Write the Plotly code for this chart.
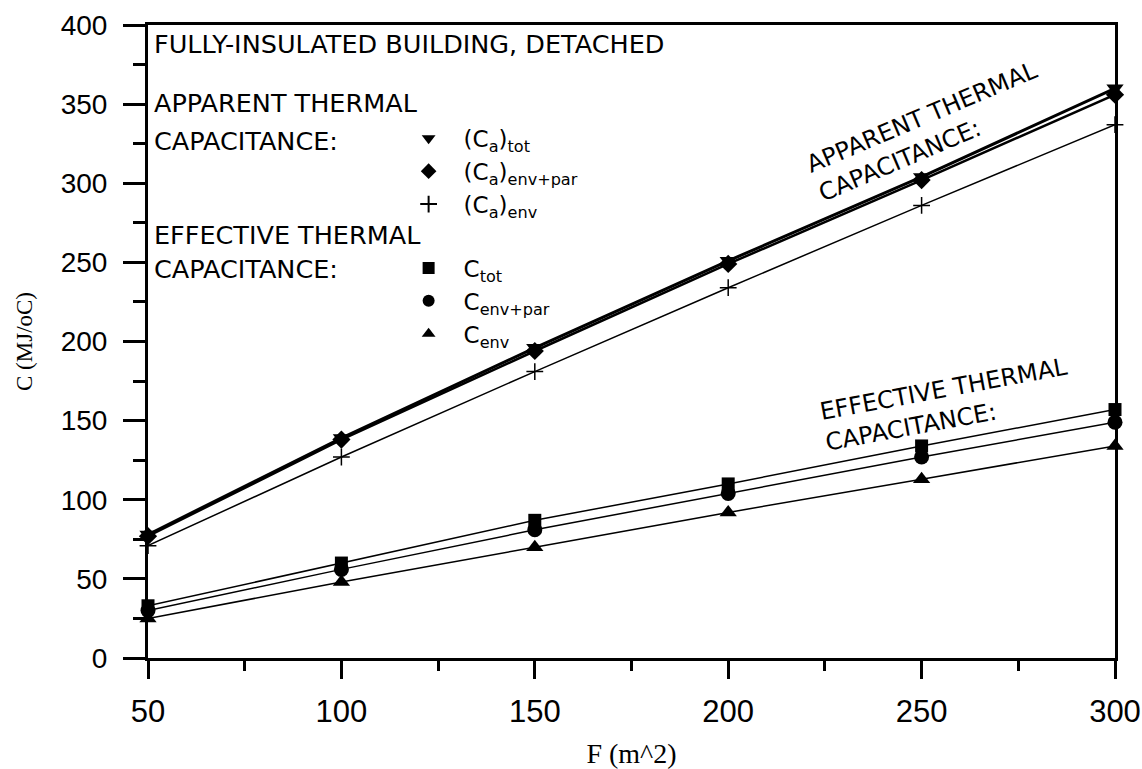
import plotly.graph_objects as go

F = [50, 100, 150, 200, 250, 300]
ca_tot = [78, 139, 196, 251, 304, 360]
ca_envpar = [77, 138, 194, 249, 302, 356]
ca_env = [71, 127, 181, 234, 286, 337]
c_tot = [33, 60, 87, 110, 134, 157]
c_envpar = [30, 56, 81, 104, 127, 149]
c_env = [25, 48, 70, 92, 113, 134]
y_ticks = [0, 50, 100, 150, 200, 250, 300, 350, 400]

series = [
    ("(C<sub>a</sub>)<sub>tot</sub>", ca_tot, "triangle-down", 3, 15, "g1"),
    ("(C<sub>a</sub>)<sub>env+par</sub>", ca_envpar, "diamond", 2.5, 14, "g1"),
    ("(C<sub>a</sub>)<sub>env</sub>", ca_env, "cross-thin", 1.5, 12, "g1"),
    ("C<sub>tot</sub>", c_tot, "square", 1.5, 13, "g2"),
    ("C<sub>env+par</sub>", c_envpar, "circle", 1.5, 15, "g2"),
    ("C<sub>env</sub>", c_env, "triangle-up", 1.5, 15, "g2"),
]

fig = go.Figure()
for name, vals, sym, lw, ms, grp in series:
    fig.add_trace(go.Scatter(
        x=F, y=vals, mode="lines+markers", showlegend=False, cliponaxis=False,
        line=dict(color="black", width=lw),
        marker=dict(symbol=sym, size=ms, color="black",
                    line=dict(color="black", width=1.5 if sym == "cross-thin" else 0)),
    ))
for name, vals, sym, lw, ms, grp in series:
    fig.add_trace(go.Scatter(
        x=[None], y=[None], mode="markers", name=name, legendgroup=grp,
        marker=dict(symbol=sym, size=ms + 4, color="black",
                    line=dict(color="black", width=1.5 if sym == "cross-thin" else 0)),
    ))

font_sans = "DejaVu Sans, Arial, sans-serif"
font_ticks = "Liberation Sans, Arial, sans-serif"
font_serif = "Liberation Serif, Times New Roman, serif"

annotations = [
    dict(x=50, y=388, text="FULLY-INSULATED BUILDING, DETACHED", xanchor="left", xshift=4),
    dict(x=50, y=351, text="APPARENT THERMAL", xanchor="left", xshift=4),
    dict(x=50, y=327, text="CAPACITANCE:", xanchor="left", xshift=4),
    dict(x=50, y=267, text="EFFECTIVE THERMAL", xanchor="left", xshift=4),
    dict(x=50, y=246, text="CAPACITANCE:", xanchor="left", xshift=4),
    dict(x=251.7, y=333, text="APPARENT THERMAL<br>CAPACITANCE:", textangle=-23, align="left", size=24),
    dict(x=256.5, y=160, text="EFFECTIVE THERMAL<br>CAPACITANCE:", textangle=-10.5, align="left", size=24),
]
ann_objs = []
for a in annotations:
    size = a.pop("size", 25.5)
    a.update(xref="x", yref="y", showarrow=False, yanchor="middle",
             font=dict(family=font_sans, size=size, color="black"))
    ann_objs.append(a)

fig.update_layout(
    width=1142, height=769,
    margin=dict(l=148, r=27, t=25, b=111, autoexpand=False),
    paper_bgcolor="white", plot_bgcolor="white",
    annotations=ann_objs,
    showlegend=True,
    legend=dict(x=0.254, y=0.855, xanchor="left", yanchor="top",
                font=dict(family=font_sans, size=23, color="black"),
                bgcolor="rgba(0,0,0,0)", tracegroupgap=31, itemsizing="constant",
                itemwidth=60),
    xaxis=dict(range=[50, 300], tickvals=F, ticktext=[str(v) for v in F],
               automargin=False,
               ticks="outside", ticklen=18, tickwidth=2.5, tickcolor="black",
               showline=True, linecolor="black", linewidth=3, mirror=True,
               showgrid=False, zeroline=False, ticklabelstandoff=6,
               minor=dict(tickvals=[75, 125, 175, 225, 275], ticks="outside", ticklen=10, tickwidth=2.5, tickcolor="black"),
               tickfont=dict(family=font_ticks, size=31, color="black"),
               title=dict(text="F (m^2)", font=dict(family=font_serif, size=28, color="black"), standoff=22)),
    yaxis=dict(range=[0, 400], tickvals=y_ticks,
               automargin=False,
               ticks="outside", ticklen=22, tickwidth=2.5, tickcolor="black",
               showline=True, linecolor="black", linewidth=3, mirror=True,
               showgrid=False, zeroline=False, ticklabelstandoff=10,
               minor=dict(tickvals=[25, 75, 125, 175, 225, 275, 325, 375], ticks="outside", ticklen=12, tickwidth=2.5, tickcolor="black"),
               tickfont=dict(family=font_ticks, size=28, color="black"),
               title=dict(text="C (MJ/oC)", font=dict(family=font_serif, size=23, color="black"), standoff=22)),
)

fig.write_html("out.html", config={"displayModeBar": False},
               post_script="document.body.style.margin='0';document.body.style.overflow='hidden';")
